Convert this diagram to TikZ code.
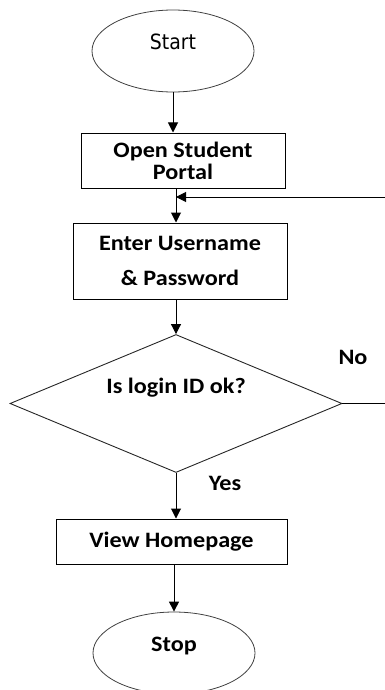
\documentclass[tikz,border=0pt]{standalone}
\usepackage{fontspec}
\setmainfont{Carlito}[FakeStretch=1.1]
\newfontfamily\thinfont{DejaVu Sans Condensed}
\usetikzlibrary{shapes.geometric,arrows.meta}
\newcommand\flowsize{\fontsize{22}{22}\selectfont}
\tikzset{every path/.style={->,>={Triangle[width=10pt,length=10pt]},line width=1pt}}
\tikzset{box/.style={rectangle,draw,font=\flowsize\bfseries}}
\tikzset{oval/.style={ellipse,draw=black!75,line width=0.8pt,minimum width=162pt,minimum height=82pt}}
\tikzset{dec/.style={diamond,draw=black!85,line width=0.9pt,shape aspect=2.4,inner sep=0pt,font=\flowsize\bfseries}}
\tikzset{lbl/.style={font=\flowsize\bfseries}}

\begin{document}
\begin{tikzpicture}[x=1pt,y=-1pt,font=\flowsize]
\useasboundingbox (0,0) rectangle (385,690);
\node[oval,font=\thinfont\fontsize{21}{21}\selectfont](start) at (173,51) {\raisebox{1pt}[0pt][0pt]{Start}};
\node[box,minimum width=204pt,minimum height=55pt,align=center](portal) at (183,160.5) {Open Student\\Portal};
\node[box,minimum width=214pt,minimum height=76pt,align=center](enter) at (180,261) {Enter Username\\[13pt]\& Password};
\node[dec,minimum width=332pt,minimum height=138pt](check) at (176,403.5) {\raisebox{10pt}[0pt][0pt]{Is login ID ok?}};
\node[box,minimum width=231pt,minimum height=45pt](view) at (171.5,541.5) {View Homepage};
\node[oval,font=\flowsize\bfseries](stop) at (174,653) {\raisebox{2pt}[0pt][0pt]{Stop}};
\node[lbl](no) at (353,357) {No};
\node[lbl](yes) at (225,483) {Yes};

\coordinate (noend) at (385,403.5);
\coordinate (backin) at (385,197);

\draw (start) -- (start |- portal.north);
\draw (check.north |- portal.south) -- (check.north |- enter.north);
\draw (check.north |- enter.south) -- (check.north);
\draw (check.south) -- (check.south |- view.north);
\draw (stop.north |- view.south) -- (stop.north);
\draw[-] (check.east) -- (noend);
\draw (backin) -- (check.north |- backin);
\end{tikzpicture}
\end{document}
